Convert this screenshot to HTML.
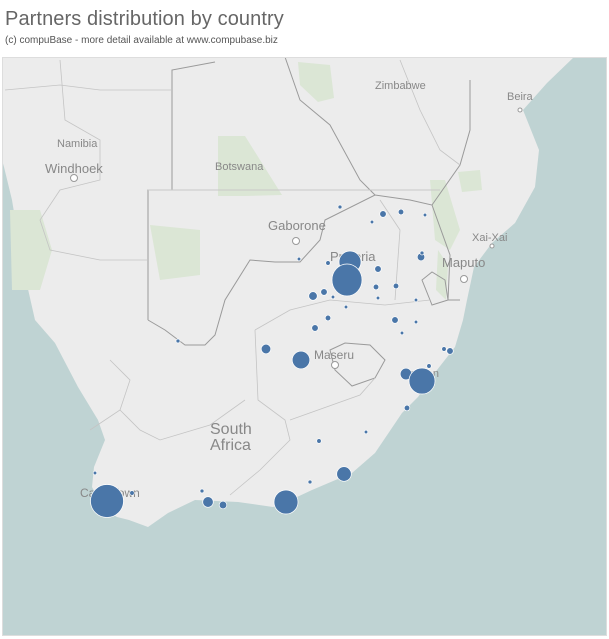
<!DOCTYPE html>
<html><head><meta charset="utf-8"><style>
body{margin:0;width:609px;height:639px;background:#fff;overflow:hidden;font-family:"Liberation Sans",sans-serif}
.t{position:absolute;left:5px;top:8px;font-size:20px;color:#666;letter-spacing:0.1px}
.s{position:absolute;left:5px;top:35px;font-size:10px;color:#555}
svg{position:absolute;left:0;top:0}
</style></head><body>
<div class="t">Partners distribution by country</div>
<div class="s">(c) compuBase - more detail available at www.compubase.biz</div>
<svg width="609" height="639" viewBox="0 0 609 639">
<defs><clipPath id="c"><rect x="2" y="57" width="605" height="579"/></clipPath></defs>
<g clip-path="url(#c)">
<rect x="2" y="57" width="605" height="579" fill="#bfd3d3"/>
<path d="M2,57 L574,57 L547,83 L523,110 L539,150 L535,187 L515,223 L492,243 L474,267 L467,300 L463,320 L455,347 L437,370 L418,397 L402,413 L375,453 L352,473 L312,490 L297,497 L273,507 L238,502 L195,500 L168,513 L148,527 L129,520 L117,517 L102,507 L92,487 L94,467 L105,440 L98,420 L78,387 L55,343 L35,320 L23,267 L12,200 L4,167 L2,160 Z" fill="#ececec"/>
<g fill="#dbe6d5">
<path d="M218,136 L245,136 L282,195 L245,196 L218,196 Z"/>
<path d="M298,62 L330,65 L334,98 L318,102 L300,85 Z"/>
<path d="M10,210 L40,210 L52,250 L40,290 L12,290 Z"/>
<path d="M150,225 L200,230 L200,275 L160,280 Z"/>
<path d="M430,180 L445,180 L460,230 L450,250 L435,240 Z"/>
<path d="M458,172 L480,170 L482,190 L462,192 Z"/>
<path d="M438,250 L448,265 L446,300 L436,290 Z"/>
</g>
<g fill="none" stroke="#9a9a9a" stroke-width="1">
<path d="M148,320 L148,190 L172,190 L172,70 L215,62"/>
<path d="M148,320 L165,330 L185,345 L205,345 L215,335 L225,300 L250,260 L275,262 L300,262 L320,240 L325,220 L375,195 L410,200 L432,205 L450,255 L448,300 L460,300"/>
<path d="M432,205 L460,165 L470,130 L470,80"/>
<path d="M285,57 L300,100 L330,125 L360,180 L375,195"/>
<path d="M148,190 L440,190" stroke="#c8c8c8"/>
<path d="M430,300 L422,280 L432,272 L445,280 L448,300 L432,305 Z"/>
<path d="M330,350 L345,343 L370,345 L385,360 L375,378 L352,386 L335,370 Z"/>
</g>
<g fill="none" stroke="#c4c4c4" stroke-width="0.8">
<path d="M255,330 L290,310 L330,300 L385,305 L430,300"/>
<path d="M255,330 L258,400 L285,420 L290,440 L260,470 L230,495"/>
<path d="M290,420 L360,395 L375,378"/>
<path d="M90,430 L120,410 L130,380 L110,360"/>
<path d="M120,410 L140,430 L160,440 L210,425 L245,400"/>
<path d="M380,200 L400,230 L395,300"/>
<path d="M60,60 L65,120 L100,140 L100,180 L60,190 L40,220 L50,250 L100,260 L148,260"/>
<path d="M5,90 L60,85 L100,90 L172,90"/>
<path d="M400,60 L420,110 L440,150 L460,165"/>
</g>
<g fill="#fff" stroke="#999" stroke-width="1">
<circle cx="74" cy="178" r="3.5"/><circle cx="296" cy="241" r="3.5"/><circle cx="464" cy="279" r="3.5"/><circle cx="335" cy="365" r="3.5"/><circle cx="492" cy="246" r="2"/><circle cx="520" cy="110" r="2"/>
</g>
<g fill="#888">
<text x="375" y="89" font-size="11">Zimbabwe</text>
<text x="507" y="100" font-size="11">Beira</text>
<text x="57" y="147" font-size="11">Namibia</text>
<text x="45" y="173" font-size="13">Windhoek</text>
<text x="215" y="170" font-size="11">Botswana</text>
<text x="268" y="230" font-size="13">Gaborone</text>
<text x="472" y="241" font-size="11">Xai-Xai</text>
<text x="442" y="267" font-size="13">Maputo</text>
<text x="330" y="261" font-size="13">Pretoria</text>
<text x="314" y="359" font-size="12">Maseru</text>
<text x="210" y="434" font-size="16">South</text>
<text x="210" y="450" font-size="16">Africa</text>
<text x="80" y="497" font-size="12">Cape Town</text>
<text x="439" y="377" font-size="11" text-anchor="end">Durban</text>
</g>
<g fill="#4a76a8" stroke="#fff" stroke-width="0.7">
<circle cx="350" cy="262" r="11"/><ellipse cx="347" cy="280" rx="15" ry="16"/>
<circle cx="340" cy="207" r="2"/><circle cx="383" cy="214" r="3.3"/><circle cx="401" cy="212" r="2.8"/><circle cx="372" cy="222" r="1.8"/><circle cx="425" cy="215" r="1.8"/><circle cx="299" cy="259" r="1.8"/><circle cx="328" cy="263" r="2.3"/><circle cx="378" cy="269" r="3.3"/><circle cx="421" cy="257" r="3.8"/><circle cx="422" cy="253" r="2"/><circle cx="313" cy="296" r="4.3"/><circle cx="324" cy="292" r="3.3"/><circle cx="333" cy="297" r="1.8"/><circle cx="376" cy="287" r="2.8"/><circle cx="396" cy="286" r="2.8"/><circle cx="378" cy="298" r="1.8"/><circle cx="416" cy="300" r="1.8"/><circle cx="346" cy="307" r="1.8"/><circle cx="328" cy="318" r="2.8"/><circle cx="315" cy="328" r="3.3"/><circle cx="395" cy="320" r="3.3"/><circle cx="416" cy="322" r="1.8"/><circle cx="402" cy="333" r="1.8"/><circle cx="266" cy="349" r="4.8"/><circle cx="301" cy="360" r="8.8"/><circle cx="444" cy="349" r="2.3"/><circle cx="450" cy="351" r="3.3"/><circle cx="429" cy="366" r="2.3"/><circle cx="406" cy="374" r="5.8"/><circle cx="422" cy="381" r="13"/><circle cx="407" cy="408" r="2.8"/><circle cx="178" cy="341" r="2"/>
<circle cx="107" cy="501" r="16.5"/><circle cx="132" cy="493" r="2.3"/><circle cx="95" cy="473" r="1.8"/><circle cx="202" cy="491" r="2"/><circle cx="208" cy="502" r="5.3"/><circle cx="223" cy="505" r="3.8"/><circle cx="286" cy="502" r="12"/><circle cx="310" cy="482" r="2"/><circle cx="319" cy="441" r="2.3"/><circle cx="366" cy="432" r="1.8"/><circle cx="344" cy="474" r="7.3"/>
</g>
</g>
<rect x="2.5" y="57.5" width="604" height="578" fill="none" stroke="#ddd"/>
</svg>
</body></html>
